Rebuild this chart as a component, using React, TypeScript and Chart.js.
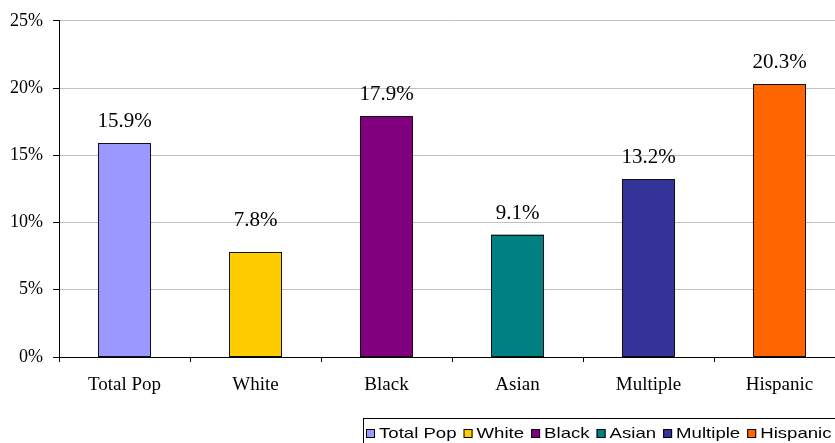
import { useEffect, useRef } from "react";
import { Chart, registerables } from "chart.js";

Chart.register(...registerables);

// Share of population by group (percent)
const categories = ["Total Pop", "White", "Black", "Asian", "Multiple", "Hispanic"];
const rates = [15.9, 7.8, 17.9, 9.1, 13.2, 20.3];
const barColors = ["#9999FF", "#FFCC00", "#800080", "#008080", "#333399", "#FF6600"];
const yTicks = [0, 5, 10, 15, 20, 25];

const SERIF = '"Liberation Serif", "Times New Roman", serif';
const SANS = '"Liberation Sans", Arial, sans-serif';

// Crisp black outlines plus percentage labels above each bar
const valueLabels = {
  id: "valueLabels",
  afterDatasetsDraw(chart: any) {
    const { ctx } = chart;
    const opts = chart.options.plugins.valueLabels || {};
    const lift: number[] = opts.lift || [];
    const meta = chart.getDatasetMeta(0);
    ctx.save();
    ctx.strokeStyle = "#111";
    ctx.lineWidth = 1;
    meta.data.forEach((bar: any) => {
      const left = Math.round(bar.x - bar.width / 2) + 0.5;
      const right = Math.round(bar.x + bar.width / 2) - 0.5;
      const top = Math.round(bar.y) + 0.5;
      const bottom = Math.round(bar.base) - 0.5;
      ctx.strokeRect(left, top, right - left, bottom - top);
    });
    ctx.font = `21px ${SERIF}`;
    ctx.fillStyle = "#000";
    ctx.textAlign = "center";
    ctx.textBaseline = "alphabetic";
    meta.data.forEach((bar: any, i: number) => {
      ctx.fillText(`${rates[i].toFixed(1)}%`, bar.x, bar.y - 16 - (lift[i] || 0));
    });
    ctx.restore();
  },
};

// Framed legend row along the bottom edge
const boxLegend = {
  id: "boxLegend",
  afterDraw(chart: any) {
    const { ctx } = chart;
    const o = chart.options.plugins.boxLegend;
    ctx.save();
    ctx.font = `15px ${SANS}`;
    ctx.textBaseline = "alphabetic";
    ctx.textAlign = "left";

    ctx.strokeStyle = "#000";
    ctx.lineWidth = 1;
    ctx.strokeRect(o.left + 0.5, o.top + 0.5, chart.width - o.left + 10, 60);

    let x = o.left + 3;
    categories.forEach((label, i) => {
      ctx.fillStyle = barColors[i];
      ctx.fillRect(x, o.top + 11, o.square, o.square);
      ctx.strokeStyle = "#000";
      ctx.strokeRect(x + 0.5, o.top + 11.5, o.square - 1, o.square - 1);
      x += o.square + o.gap;
      ctx.save();
      ctx.translate(x, o.top + 20);
      ctx.scale(o.stretch, 1);
      ctx.fillStyle = "#000";
      ctx.fillText(label, 0, 0);
      ctx.restore();
      x += ctx.measureText(label).width * o.stretch + o.itemGap;
    });
    ctx.restore();
  },
};

export default function App() {
  const canvasRef = useRef<HTMLCanvasElement | null>(null);

  useEffect(() => {
    if (!canvasRef.current) return;
    const chart = new Chart(canvasRef.current, {
      type: "bar",
      data: {
        labels: categories,
        datasets: [
          {
            data: rates,
            backgroundColor: barColors,
            borderWidth: 0,
            barPercentage: 0.405,
            categoryPercentage: 1,
          },
        ],
      },
      options: {
        responsive: false,
        animation: false,
        devicePixelRatio: 1,
        layout: { padding: { left: 0, right: 15, top: 17, bottom: 46 } },
        plugins: {
          legend: { display: false },
          tooltip: { enabled: false },
          valueLabels: { lift: [0, 10, 0, 0, 0, 0] },
          boxLegend: { left: 363, top: 418, square: 9, gap: 4, itemGap: 7, stretch: 1.24 },
        } as any,
        scales: {
          x: {
            offset: true,
            grid: {
              offset: true,
              drawOnChartArea: false,
              drawTicks: true,
              tickLength: 5,
              color: "#000",
              tickColor: "#000",
            },
            border: { color: "#000", width: 1 },
            ticks: {
              color: "#000",
              font: { family: SERIF, size: 19 },
              padding: 12,
              maxRotation: 0,
            },
            afterFit(s: any) {
              s.height = 40;
            },
          },
          y: {
            min: 0,
            max: 25,
            afterBuildTicks(s: any) {
              s.ticks = yTicks.map((v) => ({ value: v }));
            },
            grid: { color: "#c0c0c0", tickColor: "#000", tickLength: 6, drawTicks: true },
            border: { color: "#000", width: 1 },
            ticks: {
              color: "#000",
              font: { family: SERIF, size: 18 },
              padding: 10,
              callback: (v: any) => `${v}%`,
            },
            afterFit(s: any) {
              s.width = 59;
            },
          },
        },
      },
      plugins: [valueLabels, boxLegend],
    });
    return () => chart.destroy();
  }, []);

  return (
    <div
      style={{
        position: "fixed",
        left: 0,
        top: 0,
        width: 835,
        height: 443,
        overflow: "hidden",
        background: "#fff",
      }}
    >
      <canvas ref={canvasRef} width={860} height={443} style={{ display: "block" }} />
    </div>
  );
}
